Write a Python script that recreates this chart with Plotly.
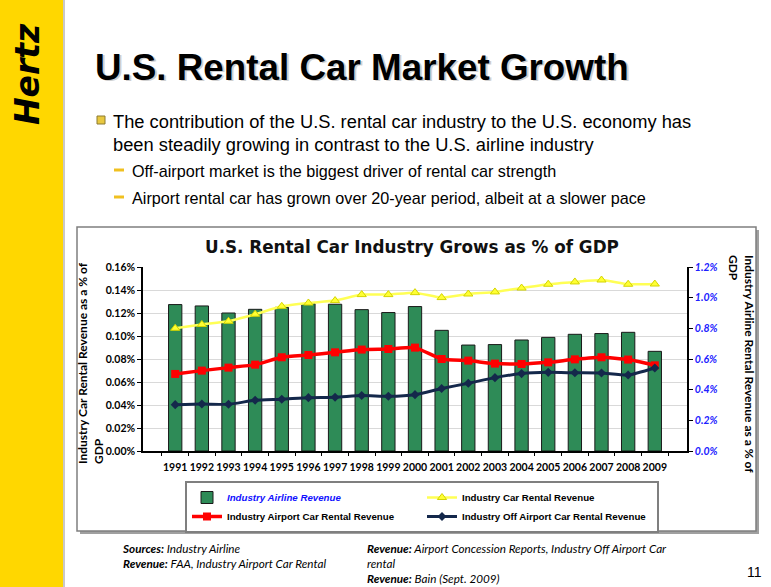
import plotly.graph_objects as go

# ---------------- data ----------------
years = ["1991", "1992", "1993", "1994", "1995", "1996", "1997", "1998", "1999", "2000",
         "2001", "2002", "2003", "2004", "2005", "2006", "2007", "2008", "2009"]
# Industry Airline Revenue as % of GDP (right axis)
airline_rev = [0.955, 0.946, 0.900, 0.924, 0.937, 0.961, 0.957, 0.922, 0.903, 0.942,
               0.787, 0.691, 0.694, 0.724, 0.741, 0.761, 0.766, 0.774, 0.650]
# Industry Car Rental Revenue as % of GDP (left axis)
car_rental = [0.1067, 0.1100, 0.1128, 0.1189, 0.1258, 0.1287, 0.1308, 0.1360, 0.1360, 0.1377,
              0.1334, 0.1365, 0.1383, 0.1417, 0.1450, 0.1470, 0.1487, 0.1450, 0.1452]
airport_car = [0.0670, 0.0699, 0.0725, 0.0751, 0.0815, 0.0835, 0.0858, 0.0882, 0.0887, 0.0899,
               0.0800, 0.0786, 0.0760, 0.0757, 0.0771, 0.0797, 0.0815, 0.0795, 0.0745]
off_airport = [0.0403, 0.0409, 0.0406, 0.0441, 0.0450, 0.0464, 0.0467, 0.0482, 0.0476, 0.0490,
               0.0543, 0.0589, 0.0638, 0.0673, 0.0684, 0.0680, 0.0678, 0.0661, 0.0722]
left_ticks = [0.00, 0.02, 0.04, 0.06, 0.08, 0.10, 0.12, 0.14, 0.16]
left_tick_text = ["0.00%", "0.02%", "0.04%", "0.06%", "0.08%", "0.10%", "0.12%", "0.14%", "0.16%"]
right_ticks = [0.0, 0.2, 0.4, 0.6, 0.8, 1.0, 1.2]
right_tick_text = ["0.0%", "0.2%", "0.4%", "0.6%", "0.8%", "1.0%", "1.2%"]

# ---------------- geometry helpers ----------------
W, H = 771, 587
L, R, T, B = 143, 84, 267, 136
PW, PH = W - L - R, H - T - B


def fx(px):
    return (px - L) / PW


def fy(py):
    return (H - B - py) / PH


CF = "Lato"  # chart font
fig = go.Figure()

fig.add_trace(go.Bar(
    x=years, y=airline_rev, yaxis="y",
    name="<i><span style='color:#1010FF'>Industry Airline Revenue</span></i>",
    marker=dict(color="#2E8B57", line=dict(color="#1A1A1A", width=1)),
    width=0.5,
))
fig.add_trace(go.Scatter(
    x=years, y=car_rental, yaxis="y2", mode="lines+markers",
    name="Industry Car Rental Revenue",
    line=dict(color="#FFFF55", width=2.5, shape="spline", smoothing=0.5),
    marker=dict(symbol="triangle-up", size=8, color="#FFFF33", line=dict(color="#D4D400", width=1)),
))
fig.add_trace(go.Scatter(
    x=years, y=airport_car, yaxis="y2", mode="lines+markers",
    name="Industry Airport Car Rental Revenue",
    line=dict(color="#FF0000", width=3.5, shape="spline", smoothing=0.5),
    marker=dict(symbol="square", size=8, color="#FF0000"),
))
fig.add_trace(go.Scatter(
    x=years, y=off_airport, yaxis="y2", mode="lines+markers",
    name="Industry Off Airport Car Rental Revenue",
    line=dict(color="#14284B", width=3, shape="spline", smoothing=0.5),
    marker=dict(symbol="diamond", size=7, color="#14284B"),
))

shapes = [
    # yellow sidebar
    dict(type="rect", xref="paper", yref="paper", x0=fx(0), x1=fx(63), y0=fy(0), y1=fy(H),
         fillcolor="#FFD700", line=dict(width=0), layer="below"),
    dict(type="line", xref="paper", yref="paper", x0=fx(64), x1=fx(64), y0=fy(0), y1=fy(H),
         line=dict(color="#C8C8C8", width=2), layer="below"),
    # chart box shadow + box
    dict(type="rect", xref="paper", yref="paper", x0=fx(80), x1=fx(759), y0=fy(230), y1=fy(534),
         fillcolor="#A0A0A0", line=dict(width=0), layer="below"),
    dict(type="rect", xref="paper", yref="paper", x0=fx(77), x1=fx(756), y0=fy(227), y1=fy(531),
         fillcolor="#FFFFFF", line=dict(color="#7F7F7F", width=1.5), layer="below"),
    # bullets
    dict(type="rect", xref="paper", yref="paper", x0=fx(97), x1=fx(105), y0=fy(116), y1=fy(124),
         fillcolor="#E8C840", line=dict(color="#8C7A30", width=1), layer="above"),
    dict(type="line", xref="paper", yref="paper", x0=fx(114), x1=fx(124), y0=fy(170), y1=fy(170),
         line=dict(color="#F0C020", width=3), layer="above"),
    dict(type="line", xref="paper", yref="paper", x0=fx(114), x1=fx(124), y0=fy(197), y1=fy(197),
         line=dict(color="#F0C020", width=3), layer="above"),
]

ann = []


def text(x, y, s, size, family="Liberation Sans", color="#000000", weight="normal",
         style="normal", xanchor="left", yanchor="middle", angle=0, align="left"):
    ann.append(dict(x=fx(x), y=fy(y), xref="paper", yref="paper", text=s, showarrow=False,
                    xanchor=xanchor, yanchor=yanchor, textangle=angle, align=align,
                    font=dict(size=size, family=family, color=color, weight=weight, style=style)))


# Hertz logo
text(27, 74, "Hertz", 33, family="DejaVu Sans", weight="bold", style="italic",
     xanchor="center", angle=-90)
# slide title with soft shadow
text(94.5, 68.5, "U.S. Rental Car Market Growth", 36.8, color="#CFCFCF", weight="bold")
text(93, 67, "U.S. Rental Car Market Growth", 36.8, weight="bold")
# bullets
text(111, 121, "The contribution of the U.S. rental car industry to the U.S. economy has", 18.3)
text(111, 144, "been steadily growing in contrast to the U.S. airline industry", 18.3)
text(130, 171, "Off-airport market is the biggest driver of rental car strength", 16.2)
text(130, 198, "Airport rental car has grown over 20-year period, albeit at a slower pace", 16.2)
# chart title
text(412, 247, "U.S. Rental Car Industry Grows as % of GDP", 16.8, family="DejaVu Sans",
     color="#111111", weight="bold", xanchor="center")
# axis titles
text(90, 363, "Industry Car Rental Revenue as a % of<br>GDP", 12, family=CF, weight="bold",
     xanchor="center", angle=-90, align="left")
text(742, 364, "Industry Airline Rental Revenue as a % of<br>GDP", 12, family=CF, weight="bold",
     xanchor="center", angle=90, align="left")
# sources
text(120, 539, "<b>Sources:</b> Industry Airline<br><b>Revenue:</b> FAA, Industry Airport Car Rental",
     11.7, family=CF, style="italic", yanchor="top")
text(365, 539, "<b>Revenue:</b> Airport Concession Reports, Industry Off Airport Car<br>rental<br>"
     "<b>Revenue:</b> Bain (Sept. 2009)", 11.7, family=CF, style="italic", yanchor="top")
text(764, 572, "11", 14, xanchor="right")

fig.update_layout(
    width=W, height=H,
    margin=dict(l=L, r=R, t=T, b=B, pad=0),
    paper_bgcolor="#FFFFFF", plot_bgcolor="rgba(0,0,0,0)",
    shapes=shapes, annotations=ann,
    bargap=0.5,
    xaxis=dict(type="category", tickson="boundaries", ticks="outside", ticklen=3,
               ticklabelstandoff=6,
               tickcolor="#000", showline=True, linecolor="#000", linewidth=1.5, tickangle=0,
               showgrid=False, tickfont=dict(family=CF, size=10.5, color="#000", weight="bold")),
    yaxis=dict(side="right", range=[0, 1.2], tickvals=right_ticks, ticktext=right_tick_text,
               showgrid=False, zeroline=False, showline=True, linecolor="#000", linewidth=1.5,
               ticks="outside", ticklen=4, tickcolor="#000",
               tickfont=dict(family=CF, size=10.5, color="#2020FF", weight="bold", style="italic")),
    yaxis2=dict(side="left", overlaying="y", range=[0, 0.16], tickvals=left_ticks,
                ticktext=left_tick_text, showgrid=True, gridcolor="#D9D9D9", gridwidth=1,
                zeroline=False, showline=True, linecolor="#000", linewidth=1.5,
                ticks="outside", ticklen=4, tickcolor="#000",
                tickfont=dict(family=CF, size=10.5, color="#000", weight="bold")),
    legend=dict(orientation="h", x=fx(185), y=fy(481), xanchor="left", yanchor="top",
                bgcolor="#FFFFFF", bordercolor="#7F7F7F", borderwidth=2,
                entrywidth=190, entrywidthmode="pixels", traceorder="normal",
                font=dict(family="Liberation Sans", size=9.7, color="#000", weight="bold"),
                tracegroupgap=0, itemwidth=30),
    showlegend=True,
)

fig.write_html("out.html", config={"displayModeBar": False},
               post_script="document.body.style.margin='0px';")
